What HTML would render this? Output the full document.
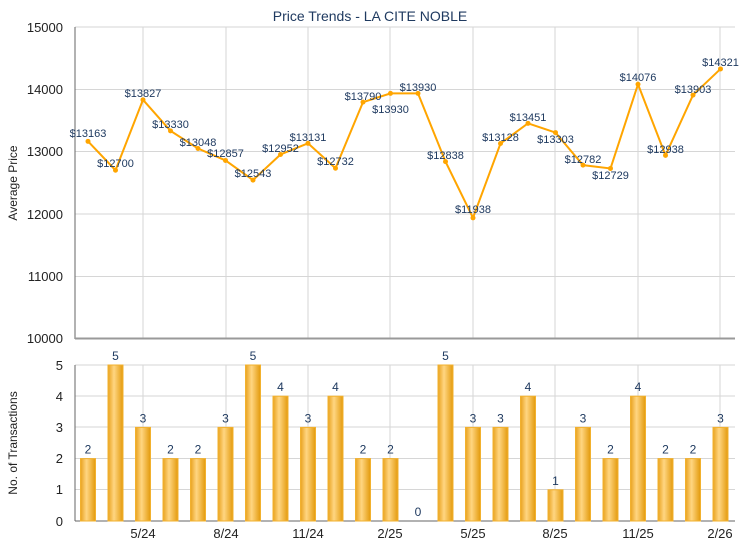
<!DOCTYPE html>
<html><head><meta charset="utf-8"><style>body{margin:0;background:#fff}svg{display:block}</style></head><body>
<svg width="740" height="550" xmlns="http://www.w3.org/2000/svg" font-family="Liberation Sans, sans-serif">
<defs><linearGradient id="g" x1="0" x2="1" y1="0" y2="0"><stop offset="0" stop-color="#e9a21e"/><stop offset="0.4" stop-color="#ffd682"/><stop offset="1" stop-color="#e39a0c"/></linearGradient></defs>
<text x="370" y="21" text-anchor="middle" font-size="14" fill="#1f3a60">Price Trends - LA CITE NOBLE</text>
<g stroke="#d6d6d6" stroke-width="1">
<line x1="75" x2="735" y1="27" y2="27"/><line x1="75" x2="735" y1="89.5" y2="89.5"/><line x1="75" x2="735" y1="151.5" y2="151.5"/><line x1="75" x2="735" y1="214" y2="214"/><line x1="75" x2="735" y1="276.5" y2="276.5"/>
<line x1="75" x2="735" y1="365" y2="365"/><line x1="75" x2="735" y1="396" y2="396"/><line x1="75" x2="735" y1="427" y2="427"/><line x1="75" x2="735" y1="458.5" y2="458.5"/><line x1="75" x2="735" y1="489.5" y2="489.5"/>
<g id="v"><line x1="143" x2="143" y1="27" y2="339"/><line x1="226" x2="226" y1="27" y2="339"/><line x1="308" x2="308" y1="27" y2="339"/><line x1="390" x2="390" y1="27" y2="339"/><line x1="473" x2="473" y1="27" y2="339"/><line x1="555" x2="555" y1="27" y2="339"/><line x1="638" x2="638" y1="27" y2="339"/><line x1="720" x2="720" y1="27" y2="339"/></g>
<g transform="translate(0,338)"><line x1="143" x2="143" y1="27" y2="183"/><line x1="226" x2="226" y1="27" y2="183"/><line x1="308" x2="308" y1="27" y2="183"/><line x1="390" x2="390" y1="27" y2="183"/><line x1="473" x2="473" y1="27" y2="183"/><line x1="555" x2="555" y1="27" y2="183"/><line x1="638" x2="638" y1="27" y2="183"/><line x1="720" x2="720" y1="27" y2="183"/></g>
</g>
<line x1="75" x2="75" y1="27" y2="339" stroke="#666"/>
<line x1="75" x2="735" y1="338.5" y2="338.5" stroke="#999" stroke-width="2"/>
<line x1="75" x2="75" y1="365" y2="521" stroke="#666"/>
<line x1="75" x2="735" y1="521" y2="521" stroke="#666"/>
<g font-size="13" fill="#222" text-anchor="end">
<text x="63" y="32">15000</text><text x="63" y="94">14000</text><text x="63" y="156">13000</text><text x="63" y="219">12000</text><text x="63" y="281">11000</text><text x="63" y="343">10000</text>
<text x="63" y="370">5</text><text x="63" y="401">4</text><text x="63" y="432">3</text><text x="63" y="463">2</text><text x="63" y="494">1</text><text x="63" y="526">0</text>
</g>
<text transform="translate(17,183) rotate(-90)" text-anchor="middle" font-size="12" fill="#222">Average Price</text>
<text transform="translate(17,443) rotate(-90)" text-anchor="middle" font-size="12" fill="#222">No. of Transactions</text>
<g font-size="13" fill="#222" text-anchor="middle">
<text x="143" y="538">5/24</text><text x="226" y="538">8/24</text><text x="308" y="538">11/24</text><text x="390" y="538">2/25</text><text x="473" y="538">5/25</text><text x="555" y="538">8/25</text><text x="638" y="538">11/25</text><text x="720" y="538">2/26</text>
</g>
<g id="bars" fill="url(#g)" stroke="#f2b12e" stroke-width="1"></g>
<g id="bl" font-size="12" fill="#1f3a60" text-anchor="middle"></g>
<polyline id="ln" fill="none" stroke="#ffa500" stroke-width="2"/>
<g id="pts" fill="#ffa500"></g>
<g id="pl" font-size="11" fill="#1f3a60" text-anchor="middle"></g>
</svg>
<script>
var P=[13163,12700,13827,13330,13048,12857,12543,12952,13131,12732,13790,13930,13930,12838,11938,13128,13451,13303,12782,12729,14076,12938,13903,14321];
var T=[2,5,3,2,2,3,5,4,3,4,2,2,0,5,3,3,4,1,3,2,4,2,2,3];
var LY=[133,163,93,124,142,153,173,148,137,161,96,109,87,155,209,137,117,139,159,175,77,149,89,62];
var ns="http://www.w3.org/2000/svg",pts=[];
function el(p,t,a,txt){var e=document.createElementNS(ns,t);for(var k in a)e.setAttribute(k,a[k]);if(txt!=null)e.textContent=txt;document.getElementById(p).appendChild(e);}
for(var i=0;i<24;i++){var x=88+i*27.5,y=339-(P[i]-10000)*0.0625;pts.push(x+","+y);
el("pts","circle",{cx:x,cy:y,r:2.5});el("pl","text",{x:x,y:LY[i]+4},"$"+P[i]);
var h=T[i]*31.2;if(h>0)el("bars","rect",{x:x-7.5,y:521-h,width:15,height:h});
el("bl","text",{x:x,y:521-h-5},T[i]);}
document.getElementById("ln").setAttribute("points",pts.join(" "));
</script>
</body></html>
